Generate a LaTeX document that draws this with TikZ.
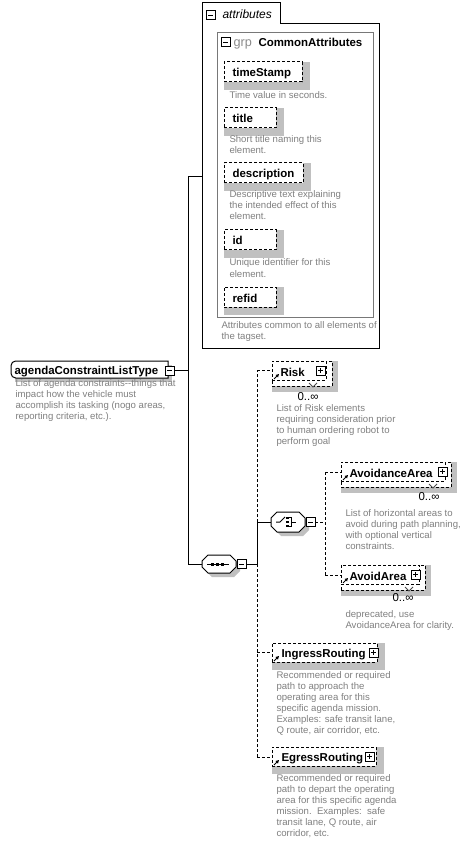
\documentclass[tikz,border=0pt]{standalone}
\usepackage{fontspec}
\setmainfont{Liberation Sans}
\definecolor{desc}{RGB}{128,128,128}
\definecolor{shad}{RGB}{192,192,192}
\definecolor{grpgray}{RGB}{120,120,120}
\newcommand\bx[6]{\node[#6, minimum width={(#4-#2)*0.75pt}, minimum height={(#5-#3)*0.75pt}, inner sep=0pt, outer sep=0pt] (#1) at ({(#2+#4)/2},{(#3+#5)/2}) {};}
\newcommand\octo[6]{\bx{#1}{#2}{#3}{#4}{#5}{}\path[#6] ({#2+6},#3) -- ({#4-6},#3) -- (#4,{#3+6}) -- (#4,{#5-6}) -- ({#4-6},#5) -- ({#2+6},#5) -- (#2,{#5-6}) -- (#2,{#3+6}) -- cycle;}
\newcommand\minusbox[5]{\bx{#1}{#2}{#3}{#4}{#5}{draw,solid,fill=white}\draw[solid] ({#2+2},{(#3+#5)/2}) -- ({#4-2},{(#3+#5)/2});}
\newcommand\plusbox[5]{\minusbox{#1}{#2}{#3}{#4}{#5}\draw[solid] ({(#2+#4)/2},{#3+2}) -- ({(#2+#4)/2},{#5-2});}
\newcommand\selem[5]{\bx{#1-sh}{#2+4}{#3+4}{#4+4}{#5+4}{fill=shad}\bx{#1}{#2}{#3}{#4}{#5}{draw,dsh,fill=white}}
\newcommand\melem[5]{\bx{#1-sh}{#2+6}{#3+6}{#4+6}{#5+6}{fill=shad}\bx{#1-bk}{#2+3}{#3+3}{#4+3}{#5+3}{draw,dsh,fill=white}\bx{#1}{#2}{#3}{#4}{#5}{draw,dsh,fill=white}}
\newcommand\refarrow[2]{\draw (#1,#2) -- ({#1+3},{#2-3});\fill ({#1+5},{#2-5}) -- ({#1+1.5},{#2-4}) -- ({#1+4},{#2-1.5}) -- cycle;}
\newcommand\notch[2]{\filldraw[fill=white,draw=black!70] ({#1-4},#2) -- (#1,{#2+4}) -- ({#1+4},#2);}
\newcommand\desc[4]{\foreach \t [count=\i from 0] in {#4} \node[dsc] (#1-\i) at (#2,{#3+11*\i}) {\t};}
\begin{document}
\begin{tikzpicture}[x=0.75pt,y=-0.75pt,line width=0.75pt,
  dsh/.style={dash pattern=on 2.25pt off 1.5pt},
  lbl/.style={font=\fontsize{8.6}{10}\selectfont\bfseries, anchor=base west, inner sep=0pt},
  occ/.style={font=\fontsize{8.6}{10}\selectfont, anchor=base west, inner sep=0pt},
  dsc/.style={font=\fontsize{7.2}{8.25}\selectfont, text=desc, anchor=base west, inner sep=0pt}]
\useasboundingbox (0,0) rectangle (473,848);
\fill[white] (0,0) rectangle (473,848);

% ---------- attributes box ----------
\bx{attr}{202}{24}{379}{348}{}
\bx{attrtab}{202}{3}{280}{24}{}
\draw[fill=white] (attr.south west) -- (attrtab.north west) -- (attrtab.north east) -- (attrtab.south east) -- (attr.north east) -- (attr.south east) -- cycle;
\minusbox{attr-m}{206}{11}{215}{20}
\node[font=\fontsize{9}{10}\selectfont\itshape, anchor=base west, inner sep=0pt] (attr-t) at (222,19) {attributes};
\bx{grp}{217}{33}{373}{317}{draw=grpgray}
\minusbox{grp-m}{221}{38}{230}{47}
\node[font=\fontsize{9.5}{10}\selectfont, text=black!45, anchor=base west, inner sep=0pt] (grp-k) at (233,47) {grp};
\node[lbl] (grp-t) at (258,47) {CommonAttributes};

\selem{ts}{224}{62}{302}{82}
\node[lbl] (ts-t) at (232,77) {timeStamp};
\desc{ts-d}{229}{99}{Time value in seconds.}
\selem{ti}{224}{108}{276}{128}
\node[lbl] (ti-t) at (232,123) {title};
\desc{ti-d}{229}{143}{Short title naming this,element.}
\selem{de}{224}{163}{303}{183}
\node[lbl] (de-t) at (232,178) {description};
\desc{de-d}{229}{198}{Descriptive text explaining,the intended effect of this,element.}
\selem{id}{224}{230}{276}{250}
\node[lbl] (id-t) at (232,245) {id};
\desc{id-d}{229}{266}{Unique identifier for this,element.}
\selem{rf}{224}{287}{276}{307}
\node[lbl] (rf-t) at (232,302) {refid};
\desc{grp-d}{221}{328}{Attributes common to all elements of,the tagset.}

% ---------- main node ----------
\bx{main-sh}{15}{365}{172}{382}{fill=shad}
\bx{main}{11}{361}{168}{378}{}
\draw[fill=white, rounded corners=3.5pt] (main.north east) -- (main.north west) -- (main.south west) [sharp corners] -- (main.south east) -- cycle;
\node[lbl] (main-t) at (14,374) {agendaConstraintListType};
\minusbox{main-m}{165}{366}{174}{375}
\desc{main-d}{15}{386}{List of agenda constraints-{}-things that,impact how the vehicle must,{accomplish its tasking (nogo areas,},{reporting criteria, etc.).}}

% connectors from main
\coordinate (v1top) at (188,177);
\coordinate (v1bot) at (188,564);
\draw (main-m.east) -- (main-m.east -| v1top);
\draw (v1top) -- (v1bot);
\draw (v1top) -- (v1top -| attr.west);

% ---------- sequence ----------
\octo{seq-sh}{206}{559}{240}{577}{fill=shad}
\octo{seq}{202}{555}{236}{573}{draw,fill=white}
\draw (207,564) -- (229,564);
\foreach \q in {211,216,221} \fill (\q,562.5) rectangle ({\q+3},565.5);
\minusbox{seq-m}{237}{559.5}{246}{568.5}
\draw (v1bot) -- (seq.west);

\coordinate (s0) at (257,564);
\coordinate (srisk) at (257,370.5);
\coordinate (sch) at (257,522);
\coordinate (sin) at (257,652.5);
\coordinate (seg) at (257,757);
\draw (seq-m.east) -- (s0);
\draw (s0) -- (sch);
\draw[dsh] (sch) -- (srisk);
\draw[dsh] (s0) -- (seg);

% ---------- Risk ----------
\melem{risk}{272}{361}{326}{380}
\notch{313}{383}
\refarrow{274}{379}
\node[lbl] (risk-t) at (280,376) {Risk};
\plusbox{risk-p}{316}{366}{325}{375}
\draw[dsh] (srisk) -- (srisk -| risk.west);
\node[occ] (risk-o) at (297,400) {0..∞};
\desc{risk-d}{276}{411}{List of Risk elements,requiring consideration prior,to human ordering robot to,perform goal}

% ---------- choice ----------
\octo{ch-sh}{275}{516}{309}{536}{fill=shad}
\octo{ch}{271}{512}{305}{532}{draw,fill=white}
\draw (276,522) -- (280,522) -- (285,517);
\foreach \q in {516.5,520.5,524.5} \fill (286,\q) rectangle (289,{\q+2.5});
\draw (289,517.5) -- (291.5,517.5) -- (291.5,526.5) -- (289,526.5);
\draw (291.5,522) -- (296,522);
\minusbox{ch-m}{306}{517.5}{315}{526.5}
\draw (sch) -- (ch.west);
\coordinate (c0) at (325,522);
\coordinate (caa) at (325,472);
\coordinate (cav) at (325,575);
\draw[dsh] (ch-m.east) -- (c0);
\draw[dsh] (caa) -- (cav);

% ---------- AvoidanceArea ----------
\melem{aa}{341}{462}{445}{481}
\notch{433}{484}
\refarrow{343}{480}
\node[lbl] (aa-t) at (349,477) {AvoidanceArea};
\plusbox{aa-p}{438}{467}{447}{476}
\draw[dsh] (caa) -- (caa -| aa.west);
\node[occ] (aa-o) at (418,500) {0..∞};
\desc{aa-d}{345}{516}{List of horizontal areas to,{avoid during path planning,},with optional vertical,constraints.}

% ---------- AvoidArea ----------
\melem{av}{341}{565}{419}{584}
\notch{409}{587}
\refarrow{343}{583}
\node[lbl] (av-t) at (349,580) {AvoidArea};
\plusbox{av-p}{411}{570}{420}{579}
\draw[dsh] (cav) -- (cav -| av.west);
\node[occ] (av-o) at (392,601) {0..∞};
\desc{av-d}{345}{617}{{deprecated, use},AvoidanceArea for clarity.}

% ---------- IngressRouting ----------
\selem{in}{272}{643}{377}{662}
\refarrow{274}{661}
\node[lbl] (in-t) at (281,657) {IngressRouting};
\plusbox{in-p}{369}{648}{378}{657}
\draw[dsh] (sin) -- (sin -| in.west);
\desc{in-d}{276}{678}{Recommended or required,path to approach the,operating area for this,specific agenda mission.,{Examples: safe transit lane,},{Q route, air corridor, etc.}}

% ---------- EgressRouting ----------
\selem{eg}{272}{747}{376}{766}
\refarrow{274}{765}
\node[lbl] (eg-t) at (281,761) {EgressRouting};
\plusbox{eg-p}{365}{752}{374}{761}
\draw[dsh] (seg) -- (seg -| eg.west);
\desc{eg-d}{276}{781}{Recommended or required,path to depart the operating,area for this specific agenda,mission.\ \ Examples:\ \ safe,{transit lane, Q route, air},{corridor, etc.}}
\end{tikzpicture}
\end{document}
